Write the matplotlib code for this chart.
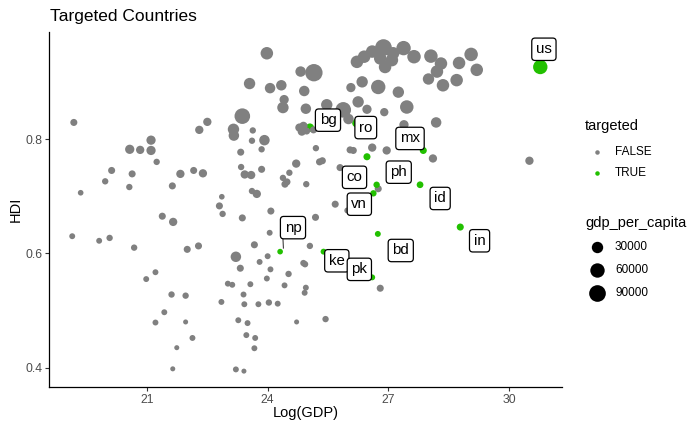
import matplotlib
matplotlib.use("Agg")
import matplotlib.pyplot as plt
import numpy as np
from matplotlib.lines import Line2D

plt.rcParams["font.family"] = ["Liberation Sans", "DejaVu Sans"]

# untargeted countries: log GDP, HDI, GDP per capita
log_gdp = [
    23.98, 23.55, 24.06, 24.34, 24.41, 24.38, 19.18, 22.50, 22.30, 23.37,
    23.15, 23.16, 23.63, 23.61, 23.92, 23.85, 21.10, 20.57, 20.83, 21.10,
    21.24, 23.33, 20.12, 20.63, 19.96, 20.56, 19.35, 21.83, 22.16, 22.39,
    21.63, 23.34, 23.43, 23.59, 23.85, 24.71, 24.54, 24.38, 24.48, 24.43,
    23.61, 23.73, 22.86, 22.80, 22.88, 24.08, 21.38, 21.65, 23.37, 19.14,
    19.81, 20.07, 24.05, 20.68, 22.00, 22.28, 23.67, 23.21, 24.00, 23.80,
    23.32, 24.07, 24.52, 21.21, 20.98, 23.98, 23.01, 23.12, 23.57, 24.42,
    23.40, 21.61, 21.96, 22.85, 23.42, 23.77, 24.03, 24.25, 21.43, 21.21,
    21.96, 23.27, 23.50, 24.72, 22.13, 23.47, 23.69, 21.74, 23.67, 21.64,
    23.21, 23.41, 25.68, 25.19, 25.98, 25.05, 24.89, 24.93, 26.80, 24.95,
    24.92, 25.44, 24.82, 25.15, 24.91, 26.07, 26.35, 26.75, 27.25, 24.95,
    25.47, 25.88, 26.25, 26.47, 26.90, 27.46, 26.22, 26.40, 26.60, 26.88,
    27.12, 26.80, 26.92, 27.09, 27.38, 27.64, 28.06, 28.31, 28.21, 28.00,
    28.36, 28.70, 28.76, 29.06, 29.20, 28.19, 27.39, 26.01, 24.79, 24.89,
    24.85, 24.97, 25.14, 25.20, 26.05, 26.13, 26.60, 26.96, 25.29, 25.36,
    25.80, 24.96, 26.75, 28.11, 30.51,
]
hdi = [
    0.950, 0.897, 0.889, 0.894, 0.869, 0.855, 0.829, 0.830, 0.816, 0.840,
    0.817, 0.806, 0.815, 0.797, 0.798, 0.782, 0.798, 0.782, 0.781, 0.780,
    0.760, 0.777, 0.745, 0.739, 0.726, 0.716, 0.706, 0.739, 0.745, 0.740,
    0.718, 0.751, 0.738, 0.737, 0.747, 0.757, 0.741, 0.732, 0.725, 0.721,
    0.709, 0.704, 0.699, 0.683, 0.669, 0.674, 0.665, 0.655, 0.662, 0.630,
    0.622, 0.627, 0.636, 0.610, 0.607, 0.613, 0.615, 0.594, 0.595, 0.585,
    0.574, 0.572, 0.564, 0.567, 0.555, 0.556, 0.547, 0.545, 0.546, 0.544,
    0.528, 0.528, 0.526, 0.515, 0.511, 0.511, 0.514, 0.512, 0.497, 0.479,
    0.480, 0.483, 0.478, 0.480, 0.452, 0.457, 0.452, 0.435, 0.434, 0.398,
    0.397, 0.394, 0.686, 0.663, 0.675, 0.613, 0.583, 0.581, 0.539, 0.540,
    0.531, 0.485, 0.918, 0.916, 0.884, 0.890, 0.900, 0.891, 0.882, 0.853,
    0.860, 0.851, 0.865, 0.852, 0.847, 0.856, 0.935, 0.944, 0.953, 0.960,
    0.950, 0.941, 0.926, 0.938, 0.959, 0.944, 0.945, 0.932, 0.918, 0.905,
    0.894, 0.903, 0.933, 0.948, 0.921, 0.829, 0.825, 0.835, 0.820, 0.823,
    0.813, 0.814, 0.816, 0.784, 0.781, 0.780, 0.785, 0.780, 0.760, 0.762,
    0.750, 0.721, 0.713, 0.766, 0.762,
]
gdp_pc = [
    40000, 30000, 23000, 23000, 15000, 30000, 5000, 10000, 10000, 75000,
    30000, 23000, 3000, 3000, 23000, 3000, 15000, 15000, 10000, 15000,
    3000, 5000, 5000, 5000, 3000, 3000, 1500, 10000, 5000, 10000,
    5000, 3000, 10000, 10000, 5000, 10000, 3000, 3000, 5000, 5000,
    3000, 10000, 1500, 5000, 3000, 5000, 5000, 10000, 5000, 2000,
    2000, 3000, 2000, 3000, 5000, 5000, 5000, 23000, 2000, 2000,
    5000, 2000, 3000, 2000, 2000, 2000, 2000, 2000, 2000, 2000,
    2000, 3000, 3000, 2000, 2000, 2000, 3000, 2000, 2000, 2000,
    700, 2000, 2000, 700, 2000, 2000, 2000, 700, 2000, 700,
    2000, 700, 5000, 5000, 2000, 3000, 3000, 3000, 5000, 2000,
    2000, 3000, 23000, 100000, 23000, 15000, 30000, 60000, 30000, 23000,
    30000, 75000, 30000, 15000, 10000, 50000, 40000, 40000, 40000, 90000,
    40000, 40000, 40000, 40000, 60000, 50000, 50000, 40000, 40000, 30000,
    40000, 40000, 40000, 50000, 40000, 23000, 15000, 23000, 10000, 10000,
    10000, 5000, 5000, 3000, 5000, 5000, 10000, 10000, 5000, 5000,
    5000, 3000, 5000, 10000, 10000,
]

# targeted countries
target_codes = ["bg", "ro", "us", "mx", "co", "ph", "vn", "id", "np", "ke", "pk", "bd", "in"]
target_log_gdp = [25.05, 26.21, 30.78, 27.87, 26.47, 26.71, 26.63, 27.79, 24.31, 25.39, 26.60, 26.74, 28.79]
target_hdi = [0.820, 0.828, 0.926, 0.780, 0.769, 0.720, 0.705, 0.720, 0.603, 0.603, 0.558, 0.634, 0.646]
target_gdp_pc = [10000, 12000, 60000, 5000, 5000, 3000, 3000, 4000, 1500, 2000, 2000, 2000, 5000]
# where the repelled labels ended up
label_log_gdp = [25.50, 26.44, 30.87, 27.54, 26.16, 27.26, 26.28, 28.29, 24.63, 25.72, 26.28, 27.31, 29.27]
label_hdi = [0.833, 0.820, 0.957, 0.801, 0.733, 0.742, 0.686, 0.696, 0.645, 0.587, 0.572, 0.605, 0.622]

size_breaks = [30000, 60000, 90000]

GRAY = "#808080"
GREEN = "#22C000"
TICK_COL = "#4D4D4D"


def marker_area(v):
    # area-style size scale, diameter in pixels -> scatter area in pt^2
    d_px = 4.2 + 13.8 * np.sqrt((np.asarray(v, dtype=float) - 300) / 109700)
    return (d_px * 0.72) ** 2


W, H = 700, 432
fig = plt.figure(figsize=(7, 4.32), dpi=100)
ax = fig.add_axes([49.3 / W, 1 - 387.3 / H, (562 - 49.3) / W, (387.3 - 32) / H])

ax.scatter(target_log_gdp[:2], target_hdi[:2], s=marker_area(target_gdp_pc[:2]),
           color=GREEN, linewidths=0, zorder=2)
ax.scatter(log_gdp, hdi, s=marker_area(gdp_pc), color=GRAY, linewidths=0, zorder=2)
ax.scatter(target_log_gdp[2:], target_hdi[2:], s=marker_area(target_gdp_pc[2:]),
           color=GREEN, linewidths=0, zorder=3)

for code, px, py, lx, ly in zip(target_codes, target_log_gdp, target_hdi, label_log_gdp, label_hdi):
    if code == "np":
        ax.plot([px + 0.08, lx - 0.25], [py + 0.006, ly - 0.018], color="black", lw=0.6, zorder=3)
    ax.text(lx, ly, code, fontsize=10.8, ha="center", va="center", zorder=4,
            bbox=dict(boxstyle="round,pad=0.28,rounding_size=0.22", fc="white", ec="black", lw=0.9))

ax.set_xlim(18.57, 31.32)
ax.set_ylim(0.3657, 0.9872)
ax.set_xticks([21, 24, 27, 30])
ax.set_yticks([0.4, 0.6, 0.8])
ax.set_yticklabels(["0.4", "0.6", "0.8"])
ax.tick_params(labelsize=8.8, colors="#333333", labelcolor=TICK_COL, length=2.6, width=0.8, pad=2.5)
for side in ["top", "right"]:
    ax.spines[side].set_visible(False)
for side in ["left", "bottom"]:
    ax.spines[side].set_linewidth(0.9)

fig.text(50 / W, 1 - 21.5 / H, "Targeted Countries", fontsize=12.5, ha="left", va="baseline")
fig.text(305.7 / W, 1 - 413 / H, "Log(GDP)", fontsize=10.5, ha="center", va="center")
fig.text(16 / W, 1 - 209.7 / H, "HDI", fontsize=10.5, ha="center", va="center", rotation=90)

# legend: targeted
fig.text(585 / W, 1 - 130.5 / H, "targeted", fontsize=10.5, ha="left", va="baseline")
for lab, col, y in [("FALSE", GRAY, 151.7), ("TRUE", GREEN, 172.7)]:
    fig.add_artist(Line2D([596.5 / W], [1 - y / H], marker="o", markersize=4.5 * 0.72,
                          color=col, markeredgewidth=0, transform=fig.transFigure))
    fig.text(615 / W, 1 - y / H, lab, fontsize=8.5, ha="left", va="center")

# legend: gdp_per_capita
fig.text(585 / W, 1 - 227 / H, "gdp_per_capita", fontsize=10.5, ha="left", va="baseline")
for val, y in zip(size_breaks, [246.7, 270, 292.7]):
    fig.add_artist(Line2D([596.7 / W], [1 - y / H], marker="o",
                          markersize=float(np.sqrt(marker_area(val))),
                          color="black", markeredgewidth=0, transform=fig.transFigure))
    fig.text(615 / W, 1 - y / H, str(val), fontsize=8.5, ha="left", va="center")

fig.savefig("out.png", dpi=100, facecolor="white")
